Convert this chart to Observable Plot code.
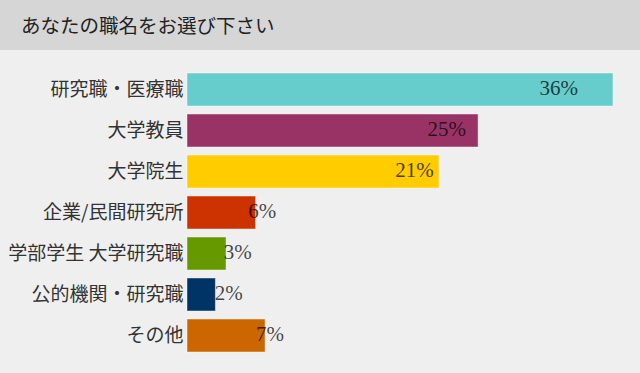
<!DOCTYPE html>
<html><head><meta charset="utf-8">
<script src="https://cdn.jsdelivr.net/npm/d3@7"></script>
<script src="https://cdn.jsdelivr.net/npm/@observablehq/plot@0.6"></script>
<style>
html,body{margin:0;padding:0;background:#efefef;width:640px;height:373px;overflow:hidden;}
#title{height:50px;background:#d6d6d6;font-family:"Noto Sans CJK JP","Noto Sans",sans-serif;font-size:19.5px;color:#222;line-height:50px;padding-left:21px;box-sizing:border-box;}
#chart svg{display:block;}
</style></head>
<body>
<div id="title">あなたの職名をお選び下さい</div>
<div id="chart"></div>
<script>
const categories = ["研究職・医療職","大学教員","大学院生","企業/民間研究所","学部学生 大学研究職","公的機関・研究職","その他"];
const values = [36.0, 24.6, 21.3, 5.8, 3.3, 2.4, 6.6];
const labels = ["36%","25%","21%","6%","3%","2%","7%"];
const colors = ["#66cccc","#993366","#ffcc00","#cc3300","#669900","#003366","#cc6600"];

const data = categories.map((c,i)=>({cat:c, value:values[i], label:labels[i], color:colors[i]}));

const chart = Plot.plot({
  width: 640,
  height: 323,
  marginLeft: 187,
  marginRight: 27,
  marginTop: 12,
  marginBottom: 11,
  style: {background:"#efefef", fontFamily:"'Noto Sans CJK JP', sans-serif"},
  x: {domain:[0,36], axis:null},
  y: {domain: categories, padding: 0.2, label:null},
  marks: [
    Plot.barX(data, {y:"cat", x:"value", fill:"color", stroke:"#ffffff", strokeOpacity:0.45, strokeWidth:1}),
    Plot.text(data, {y:"cat", x: d => d.value*0.83 + 1.5, text:"label", fill:"#000", fillOpacity:0.72,
      fontSize:21, fontFamily:"'Liberation Serif', serif", textAnchor:"middle", dy:-2}),
    Plot.axisY({tickSize:0, tickPadding:4, fontSize:19, fill:"#333", label:null})
  ]
});
document.getElementById("chart").appendChild(chart);
</script>
</body></html>
